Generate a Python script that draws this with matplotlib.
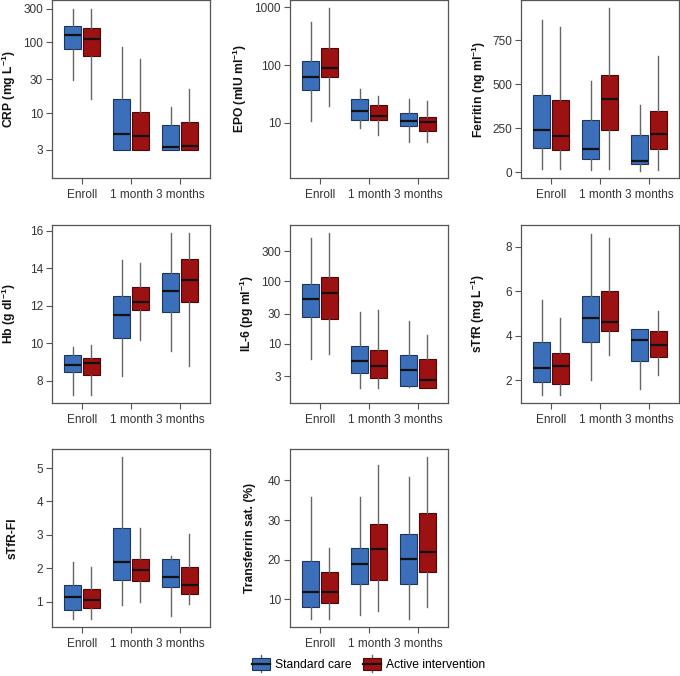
import matplotlib
matplotlib.use("Agg")
import matplotlib.pyplot as plt
from matplotlib.patches import Patch, Rectangle
from matplotlib.lines import Line2D
from matplotlib.legend_handler import HandlerBase
from matplotlib.ticker import FixedLocator, ScalarFormatter, NullLocator

plt.rcParams['font.family'] = ['Liberation Sans', 'DejaVu Sans']
plt.rcParams['mathtext.fontset'] = 'custom'
plt.rcParams['mathtext.rm'] = 'Liberation Sans'
plt.rcParams['mathtext.bf'] = 'Liberation Sans:bold'

#Time points
times = ["Enroll", "1 month", "3 months"]
arms = ["Standard care", "Active intervention"]

#Box stats per time point: [whisker low, q1, median, q3, whisker high]
crp_std = [[29, 81, 128, 171, 300], [3, 3, 5.0, 15.9, 86], [3, 3, 3.3, 6.8, 12]]
crp_act = [[15.7, 64, 111, 163, 300], [3, 3, 4.7, 10.4, 58], [3, 3, 3.4, 7.5, 22]]
epo_std = [[10.6, 36.6, 63, 119, 551], [8.0, 11.3, 15.9, 26, 39], [4.6, 8.9, 10.8, 14.9, 25.6]]
epo_act = [[19.6, 61, 90, 200, 960], [6.0, 11.3, 13.2, 20.2, 28.5], [4.6, 7.2, 10.3, 12.5, 24]]
fer_std = [[17, 136, 240, 436, 866], [11, 72, 129, 297, 520], [7, 47, 62, 212, 380]]
fer_act = [[17, 125, 204, 410, 828], [17, 240, 414, 552, 934], [10, 132, 215, 348, 663]]
hb_std = [[7.22, 8.44, 8.83, 9.40, 9.79], [8.23, 10.30, 11.49, 12.53, 14.46], [9.58, 11.68, 12.80, 13.75, 15.88]]
hb_act = [[7.22, 8.32, 8.94, 9.19, 9.89], [10.19, 11.79, 12.19, 12.99, 14.28], [8.81, 12.19, 13.40, 14.53, 15.88]]
il6_std = [[5.7, 26.8, 52.5, 88.5, 482], [1.98, 3.42, 5.2, 9.2, 32.6], [2.03, 2.1, 3.86, 6.5, 23.2]]
il6_act = [[6.8, 24.6, 65.3, 117, 585], [1.98, 2.88, 4.37, 7.8, 34.6], [1.98, 1.98, 2.59, 5.6, 13.9]]
stfr_std = [[1.33, 1.91, 2.58, 3.71, 5.59], [2.03, 3.72, 4.82, 5.79, 8.58], [1.61, 2.86, 3.82, 4.30, 4.30]]
stfr_act = [[1.33, 1.86, 2.64, 3.22, 4.81], [3.13, 4.21, 4.60, 6.01, 8.40], [2.23, 3.05, 3.57, 4.23, 5.12]]
fi_std = [[0.47, 0.74, 1.13, 1.49, 2.19], [0.90, 1.64, 2.20, 3.21, 5.34], [0.58, 1.44, 1.75, 2.29, 2.37]]
fi_act = [[0.47, 0.81, 1.04, 1.37, 2.04], [0.99, 1.61, 1.94, 2.27, 3.21], [0.93, 1.24, 1.49, 2.05, 3.03]]
tsat_std = [[5.0, 8.0, 11.9, 19.7, 35.8], [6.2, 14.0, 19.0, 23.0, 35.8], [5.0, 14.0, 20.1, 26.5, 40.8]]
tsat_act = [[5.0, 9.1, 11.9, 16.9, 23.0], [7.1, 15.0, 22.6, 28.9, 43.9], [8.1, 16.9, 22.0, 31.9, 45.8]]

#Panel setup: label, data, log scale, ticks, ylim, label x (axes coords)
panels = [
    (r"CRP (mg L$^{\mathbf{-1}}$)", crp_std, crp_act, True, [3, 10, 30, 100, 300], (1.2, 400), -0.215),
    (r"EPO (mIU ml$^{\mathbf{-1}}$)", epo_std, epo_act, True, [10, 100, 1000], (1.1, 1340), -0.26),
    (r"Ferritin (ng ml$^{\mathbf{-1}}$)", fer_std, fer_act, False, [0, 250, 500, 750], (-34, 980), -0.21),
    (r"Hb (g dl$^{\mathbf{-1}}$)", hb_std, hb_act, False, [8, 10, 12, 14, 16], (6.81, 16.32), -0.215),
    (r"IL-6 (pg ml$^{\mathbf{-1}}$)", il6_std, il6_act, True, [3, 10, 30, 100, 300], (1.13, 785), -0.215),
    (r"sTfR (mg L$^{\mathbf{-1}}$)", stfr_std, stfr_act, False, [2, 4, 6, 8], (0.99, 8.97), -0.215),
    ("sTfR-FI", fi_std, fi_act, False, [1, 2, 3, 4, 5], (0.24, 5.57), -0.21),
    ("Transferrin sat. (%)", tsat_std, tsat_act, False, [10, 20, 30, 40], (3.07, 47.9), -0.215),
]

blue = "#3b6fba"
red = "#9c1111"
blue_edge = "#1f3558"
red_edge = "#4a0808"
spine_col = "#555555"

fig = plt.figure(figsize=(6.8, 6.76), dpi=100)

lefts = [52, 290, 521]
bottoms = [178, 403, 627]
W, H = 680.0, 676.0

def make_stats(rows):
    out = []
    for r in rows:
        out.append(dict(whislo=r[0], q1=r[1], med=r[2], q3=r[3], whishi=r[4], fliers=[]))
    return out

for i, (label, std, act, logy, ticks, ylim, labx) in enumerate(panels):
    row = i // 3
    col = i % 3
    ax = fig.add_axes([lefts[col] / W, 1 - bottoms[row] / H, 158 / W, 178 / H])
    if logy:
        ax.set_yscale("log")
    for data, off, fc, ec in [(std, -0.19, blue, blue_edge), (act, 0.19, red, red_edge)]:
        pos = [1 + off, 2 + off, 3 + off]
        ax.bxp(make_stats(data), positions=pos, widths=0.35, showcaps=False,
               showfliers=False, patch_artist=True,
               boxprops=dict(facecolor=fc, edgecolor=ec, linewidth=0.8),
               medianprops=dict(color="#111111", linewidth=1.6),
               whiskerprops=dict(color="#666666", linewidth=1.0))
    ax.set_xlim(0.39, 3.61)
    ax.set_ylim(*ylim)
    ax.set_xticks([1, 2, 3])
    ax.set_xticklabels(times)
    ax.yaxis.set_major_locator(FixedLocator(ticks))
    ax.yaxis.set_major_formatter(ScalarFormatter())
    ax.yaxis.set_minor_locator(NullLocator())
    ax.tick_params(axis="y", length=4, width=0.8, pad=2.5, labelsize=8.5, colors=spine_col, labelcolor="#333333")
    ax.tick_params(axis="x", length=4.5, width=0.8, pad=3.5, labelsize=8.5, colors=spine_col, labelcolor="#333333")
    for s in ax.spines.values():
        s.set_color(spine_col)
        s.set_linewidth(0.9)
    ax.set_ylabel(label, fontsize=8.7, fontweight="bold", color="#111111")
    ax.yaxis.set_label_coords(labx, 0.5)

#Legend with box shaped keys
class BoxHandler(HandlerBase):
    def create_artists(self, legend, orig_handle, xdescent, ydescent, width, height, fontsize, trans):
        x0 = -xdescent
        y0 = -ydescent
        rect = Rectangle((x0, y0 - height * 0.1), width, height * 1.2,
                         facecolor=orig_handle.get_facecolor(), edgecolor=orig_handle.get_edgecolor(),
                         linewidth=0.8, transform=trans)
        med = Line2D([x0, x0 + width], [y0 + height / 2] * 2, color="#111111", lw=1.6, transform=trans)
        w1 = Line2D([x0 + width / 2] * 2, [y0 + height * 1.1, y0 + height * 1.35], color="#666666", lw=1, transform=trans)
        w2 = Line2D([x0 + width / 2] * 2, [y0 - height * 0.1, y0 - height * 0.35], color="#666666", lw=1, transform=trans)
        return [w1, w2, rect, med]

handles = [Patch(facecolor=blue, edgecolor=blue_edge), Patch(facecolor=red, edgecolor=red_edge)]
fig.legend(handles, arms, loc="center", bbox_to_anchor=(0.542, 1 - 665 / H), ncol=2, frameon=False,
           fontsize=8.7, handlelength=1.5, handleheight=0.9, handletextpad=0.35, columnspacing=1.0,
           handler_map={Patch: BoxHandler()})

fig.savefig("out.png", dpi=100)
